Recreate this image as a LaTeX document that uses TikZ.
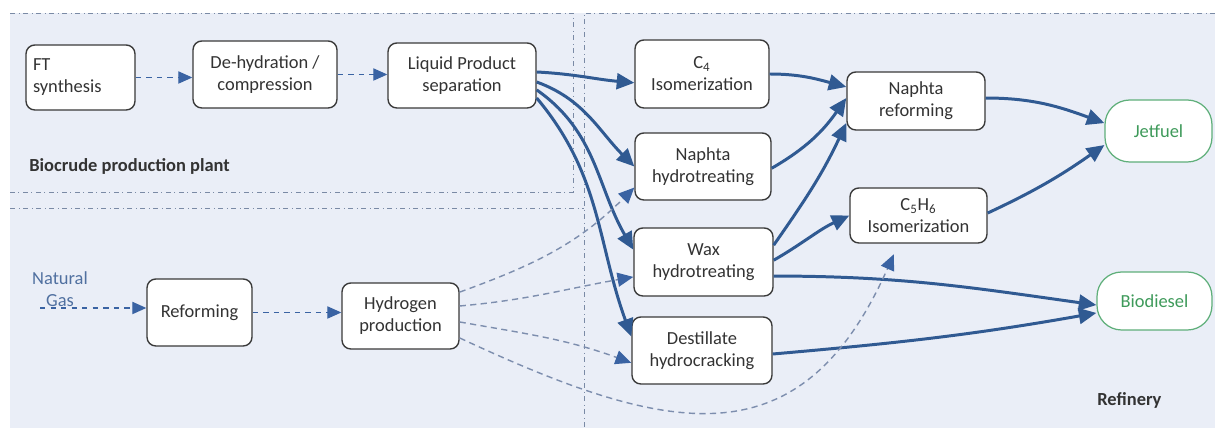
\documentclass[tikz,border=0pt]{standalone}
\usepackage{fontspec}
\setmainfont{Carlito}
\usetikzlibrary{arrows.meta}

\definecolor{bgblue}{HTML}{EAEEF7}
\definecolor{flowblue}{HTML}{305A92}
\definecolor{dashblue}{HTML}{3A63A3}
\definecolor{hgrey}{HTML}{7D8EAE}
\definecolor{framegrey}{HTML}{7A8AA5}
\definecolor{boxline}{HTML}{3A3A3A}
\definecolor{fuelgreen}{HTML}{3E9A5A}
\definecolor{fuelline}{HTML}{5FAF7A}
\definecolor{gastext}{HTML}{5070A0}

\begin{document}
\begin{tikzpicture}[x=0.02cm, y=-0.02cm,
    font=\fontsize{10.5}{12.5}\selectfont, text=black!80,
    unit/.style={draw=boxline, fill=white, rounded corners=5pt, line width=0.8pt, align=center, inner sep=2pt},
    fuel/.style={draw=fuelline, fill=white, rounded corners=14pt, line width=0.7pt, text=fuelgreen},
    flow/.style={draw=flowblue, line width=1.7pt, -{Triangle[length=10pt,width=9pt]}},
    feed/.style={draw=dashblue, dashed, line width=0.7pt, -{Triangle[length=8pt,width=7pt]}},
    hline/.style={draw=hgrey, dash pattern=on 3.5pt off 2.5pt, line width=0.8pt, -{Triangle[length=9pt,width=8pt,color=dashblue]}},
    border/.style={draw=framegrey, dash dot, line width=0.5pt},
    region/.style={font=\fontsize{10.5}{12}\selectfont\bfseries, anchor=west, inner sep=0pt}]
    \useasboundingbox (0,0) rectangle (1215,428);

    % Background and plant borders
    \fill[bgblue] (10,13) rectangle (1215,428);
    \draw[border] (10,13) -- (573,13) -- (573,192) -- (10,192);
    \draw[border] (10,208) -- (584,208);
    \draw[border] (1215,13) -- (584,13) -- (584,428);
    \node[region] (plant) at (29,166) {Biocrude production plant};
    \node[region] (refinery) at (1097,400) {Refinery};

    % Biocrude production
    \node[unit, minimum width=2.18cm, minimum height=1.3cm, text width=1.9cm, align=left] (ft) at (80.5,77.5) {FT\\synthesis};
    \node[unit, minimum width=2.88cm, minimum height=1.34cm] (dehyd) at (265,74.5) {De-hydration /\\compression};
    \node[unit, minimum width=2.96cm, minimum height=1.3cm] (liquid) at (462,75.5) {Liquid Product\\separation};

    % Hydrogen supply
    \node[align=center, text=gastext, inner sep=0pt] (gas) at (60,289) {Natural\\Gas};
    \coordinate (gasin) at (40,308);
    \node[unit, minimum width=2.1cm, minimum height=1.34cm] (reform) at (199.5,312.5) {Reforming};
    \node[unit, minimum width=2.34cm, minimum height=1.32cm] (hydro) at (400.5,316) {Hydrogen\\production};

    % Refinery units
    \node[unit, minimum width=2.68cm, minimum height=1.36cm] (c4) at (702,74) {C\textsubscript{4}\\Isomerization};
    \node[unit, minimum width=2.72cm, minimum height=1.34cm] (nhydro) at (703,166.5) {Naphta\\hydrotreating};
    \node[unit, minimum width=2.78cm, minimum height=1.36cm] (wax) at (703.5,262) {Wax\\hydrotreating};
    \node[unit, minimum width=2.8cm, minimum height=1.34cm] (dest) at (702,350.5) {Destillate\\hydrocracking};
    \node[unit, minimum width=2.76cm, minimum height=1.16cm] (nref) at (916,101) {Naphta\\reforming};
    \node[unit, minimum width=2.74cm, minimum height=1.1cm] (c5) at (918.5,215.5) {C\textsubscript{5}H\textsubscript{6}\\Isomerization};

    % Products
    \node[fuel, minimum width=2.14cm, minimum height=1.24cm] (jet) at (1158.5,131) {Jetfuel};
    \node[fuel, minimum width=2.3cm, minimum height=1.16cm] (bio) at (1154.5,301) {Biodiesel};

    % Dashed feed lines
    \draw[feed] (ft.east) -- (ft.east -| dehyd.west);
    \draw[feed] (dehyd.east) -- (dehyd.east -| liquid.west);
    \draw[feed] (gasin) -- (gasin -| reform.west);
    \draw[feed] (reform.east) -- (reform.east -| hydro.west);

    % Liquid product streams
    \draw[flow] ([yshift=2pt]liquid.east) to[out=-3, in=175] ([yshift=-5pt]c4.west);
    \draw[flow] ([yshift=-3.7pt]liquid.east) to[out=-20, in=135] (nhydro.west);
    \draw[flow] ([yshift=-8.2pt]liquid.east) to[out=-35, in=120] ([yshift=7pt]wax.west);
    \draw[flow] ([yshift=-12.8pt]liquid.east) to[out=-50, in=110] ([yshift=8pt]dest.west);

    % Refinery streams
    \draw[flow] (c4.east) to[out=0, in=165] ([yshift=8pt]nref.west);
    \draw[flow] ([yshift=-1pt]nhydro.east) to[out=30, in=-125] ([yshift=1.7pt]nref.west);
    \draw[flow] ([yshift=9.6pt]wax.east) to[out=55, in=-115] ([yshift=-12.5pt]nref.west);
    \draw[flow] ([yshift=1pt]wax.east) to[out=30, in=-155] (c5.west);
    \draw[flow] ([yshift=-8pt]wax.east) to[out=0, in=172] ([yshift=-2.3pt]bio.west);
    \draw[flow] ([yshift=-2pt]dest.east) to[out=5, in=-170] ([yshift=-6.8pt]bio.west);
    \draw[flow] ([yshift=1.7pt]nref.east) to[out=0, in=160] ([yshift=4.5pt]jet.west);
    \draw[flow] ([yshift=1.4pt]c5.east) to[out=25, in=-145] ([yshift=-8pt]jet.west);

    % Hydrogen streams
    \draw[hline] ([yshift=13.6pt]hydro.east) to[out=20, in=-135] ([yshift=-12pt]nhydro.west);
    \draw[hline] ([yshift=5.7pt]hydro.east) to[out=5, in=-170] ([yshift=-8.5pt]wax.west);
    \draw[hline] ([yshift=-3.4pt]hydro.east) to[out=-10, in=160] ([yshift=-7pt]dest.west);
    \draw[hline] ([yshift=-12.5pt]hydro.east) .. controls +(-25:4.6cm) and +(-114:4.6cm) .. ([xshift=-14pt,yshift=-6pt]c5.south);
\end{tikzpicture}
\end{document}
